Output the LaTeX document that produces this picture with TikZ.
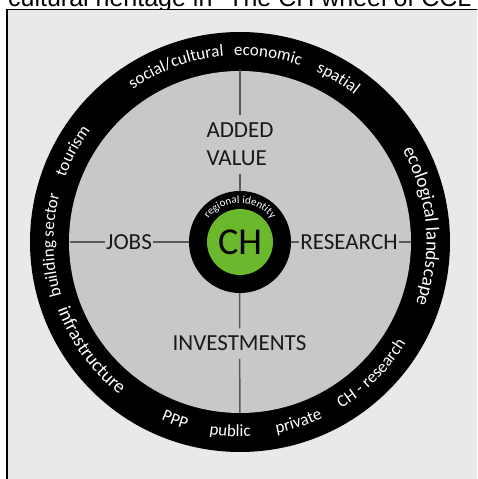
\documentclass[tikz,border=0pt]{standalone}
\usepackage{fontspec}
\setmainfont{Carlito}
\newfontfamily\titlefont{Liberation Sans}
\usetikzlibrary{decorations.text}
\definecolor{framebg}{HTML}{E9E9E9}
\definecolor{diskgray}{HTML}{C8C8C8}
\definecolor{chgreen}{HTML}{6CB82C}
\definecolor{spokecol}{HTML}{5A5A5A}
\newcommand\rsz[1]{\fontsize{#1}{#1}\selectfont}
\tikzset{
  ringtext/.style 2 args={decoration={text along path, text={|\rsz{#1}|#2},
      text align=center, text color=white}, decorate},
  lbl/.style={inner xsep=1pt, inner ysep=7.5pt, text=black!90,
      font=\fontsize{23}{28}\selectfont},
  spoke/.style={draw=spokecol, line width=1.5pt}
}
% clockwise label (upper half): angle, half span, radius, size, text
\newcommand\cwlabel[5]{\path[ringtext={#4}{#5}] ({#1+#2}:#3) arc[start angle={#1+#2}, end angle={#1-#2}, radius=#3];}
% counter-clockwise label (lower half)
\newcommand\ccwlabel[5]{\path[ringtext={#4}{#5}] ({#1-#2}:#3) arc[start angle={#1-#2}, end angle={#1+#2}, radius=#3];}
\begin{document}
\begin{tikzpicture}[x=1pt,y=1pt]
\useasboundingbox (0,0) rectangle (477,479);
\clip (0,0) rectangle (477,479);
\fill[white] (0,0) rectangle (477,479);
\node[anchor=base west, inner sep=0, font=\titlefont\fontsize{25}{25}\selectfont] (title) at (8,472) {cultural heritage in "The CH wheel of CCL};
\draw[line width=1.6pt, fill=framebg] (7,-20) rectangle (520,469.5);
\coordinate (O) at (240,237);
\fill[black] (O) circle[radius=210];
\fill[diskgray] (O) circle[radius=171];
% nodes
\node[circle, fill=black, minimum size=102pt, inner sep=0] (hub) at (O) {};
\node[circle, fill=chgreen, minimum size=66pt, inner sep=0, font=\rsz{38}] (ch) at (O) {CH};
\node[lbl, align=left] (av) at (240,334.5) {ADDED\\VALUE};
\node[lbl] (jobs) at (129,237) {JOBS};
\node[lbl] (research) at (349,237) {RESEARCH};
\node[lbl] (inv) at (239.5,135.5) {INVESTMENTS};
\coordinate (topend) at (240,409);
\coordinate (botend) at (240,66);
\coordinate (leftend) at (70,237);
\coordinate (rightend) at (411,237);
% spokes
\draw[spoke] (topend) -- (av);
\draw[spoke] (av) -- (hub);
\draw[spoke] (leftend) -- (jobs);
\draw[spoke] (jobs) -- (hub);
\draw[spoke] (hub) -- (research);
\draw[spoke] (research) -- (rightend);
\draw[spoke] (hub) -- (inv);
\draw[spoke] (inv) -- (botend);
% ring labels
\begin{scope}[shift={(O)}]
\cwlabel{110}{50}{186.5}{17}{social/cultural}
\cwlabel{81.5}{50}{186.5}{17}{economic}
\cwlabel{59}{50}{186.5}{17}{spatial}
\cwlabel{151.5}{50}{186.5}{17}{tourism}
\cwlabel{181}{50}{186.5}{17}{building sector}
\cwlabel{5}{50}{186.5}{19}{ecological landscape}
\ccwlabel{-144}{50}{194.5}{19}{infrastructure}
\ccwlabel{-110}{50}{194.5}{17}{PPP}
\ccwlabel{-93}{50}{194.5}{17}{public}
\ccwlabel{-72}{50}{194.5}{17}{private}
\ccwlabel{-45}{50}{194.5}{17}{CH - research}
\cwlabel{90}{70}{39}{11}{regional identity}
\end{scope}
\end{tikzpicture}
\end{document}
